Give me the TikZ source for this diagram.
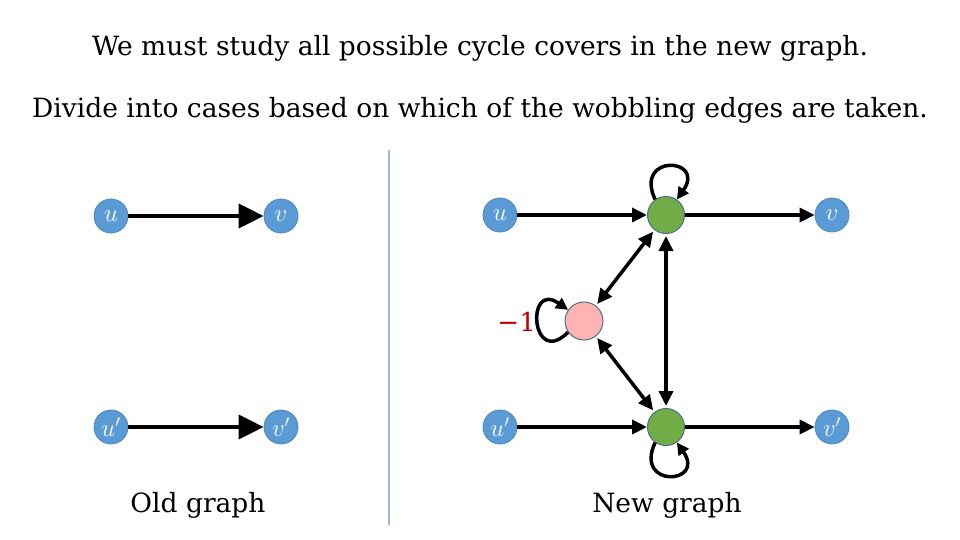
\documentclass[tikz,border=0pt]{standalone}
\usepackage{fontspec}
\setmainfont{DejaVu Serif}
\usetikzlibrary{arrows.meta}

\definecolor{nodeblue}{HTML}{5B9BD5}
\definecolor{nodeblueline}{HTML}{4A86BE}
\definecolor{nodegreen}{HTML}{70AD47}
\definecolor{nodepink}{HTML}{FFB3B3}
\definecolor{nodeline}{HTML}{4F6B85}
\definecolor{splitblue}{HTML}{9DB9D9}
\definecolor{minusred}{HTML}{C00000}

\tikzset{
    vert/.style={circle, fill=nodeblue, draw=nodeblueline, line width=0.8pt, minimum size=34pt, inner sep=0pt, text=white, font=\fontsize{24}{24}\selectfont},
    gadget/.style={circle, fill=nodegreen, draw=nodeline, line width=1pt, minimum size=37pt, inner sep=0pt},
    wobble/.style={circle, fill=nodepink, draw=nodeline, line width=1pt, minimum size=38pt, inner sep=0pt},
    oldedge/.style={line width=4pt, -{Triangle[length=25pt, width=24pt]}},
    newedge/.style={line width=3.5pt, -{Triangle[length=15pt, width=14pt]}},
    bothedge/.style={line width=3.5pt, {Triangle[length=15pt, width=14pt]}-{Triangle[length=15pt, width=14pt]}},
    loopedge/.style={line width=3.5pt, -{Triangle[length=12pt, width=12pt]}, min distance=26pt},
    slide/.style={font=\fontsize{26.5}{30}\selectfont}
}

\begin{document}
\begin{tikzpicture}[x=1pt, y=-1pt]
    \useasboundingbox (0,0) rectangle (960,540);

    % Title
    \node[slide] (line1) at (480,48) {We must study all possible cycle covers in the new graph.};
    \node[slide] (line2) at (480,110) {Divide into cases based on which of the wobbling edges are taken.};

    % Divider
    \draw[splitblue, line width=1.2pt] (389,150) -- (389,525);

    % Old graph
    \node[vert] (ou) at (111,216) {$u$};
    \node[vert] (ov) at (281,216) {$v$};
    \node[vert] (oup) at (111,427) {$u'$};
    \node[vert] (ovp) at (281,427) {$v'$};
    \draw[oldedge] (ou) -- (ov);
    \draw[oldedge] (oup) -- (ovp);
    \node[slide] (oldlab) at (198,505) {Old graph};

    % New graph
    \node[vert] (nu) at (500,215) {$u$};
    \node[gadget] (gtop) at (666,215) {};
    \node[vert] (nv) at (832,215) {$v$};
    \node[vert] (nup) at (500,427) {$u'$};
    \node[gadget] (gbot) at (666,427) {};
    \node[vert] (nvp) at (832,427) {$v'$};
    \node[wobble] (w) at (584,321) {};
    \node[text=minusred, anchor=east, inner sep=0pt, font=\fontsize{26}{30}\selectfont] (wlab) at (536,322) {−1};

    \draw[newedge] (nu) -- (gtop);
    \draw[newedge] (gtop) -- (nv);
    \draw[newedge] (nup) -- (gbot);
    \draw[newedge] (gbot) -- (nvp);
    \draw[bothedge, shorten <=2pt, shorten >=2pt] (gtop) -- (w);
    \draw[bothedge, shorten <=2pt, shorten >=2pt] (w) -- (gbot);
    \draw[bothedge, shorten <=2pt, shorten >=2pt] (gtop) -- (gbot);

    % Self loops
    \draw[loopedge] (gtop.125) to[out=115, in=55, looseness=6] (gtop.55);
    \draw[loopedge] (gbot.235) to[out=245, in=305, looseness=6] (gbot.305);
    \draw[loopedge] (w.215) to[out=225, in=145, looseness=6] (w.145);
    \node[slide] (newlab) at (667,505) {New graph};
\end{tikzpicture}
\end{document}
